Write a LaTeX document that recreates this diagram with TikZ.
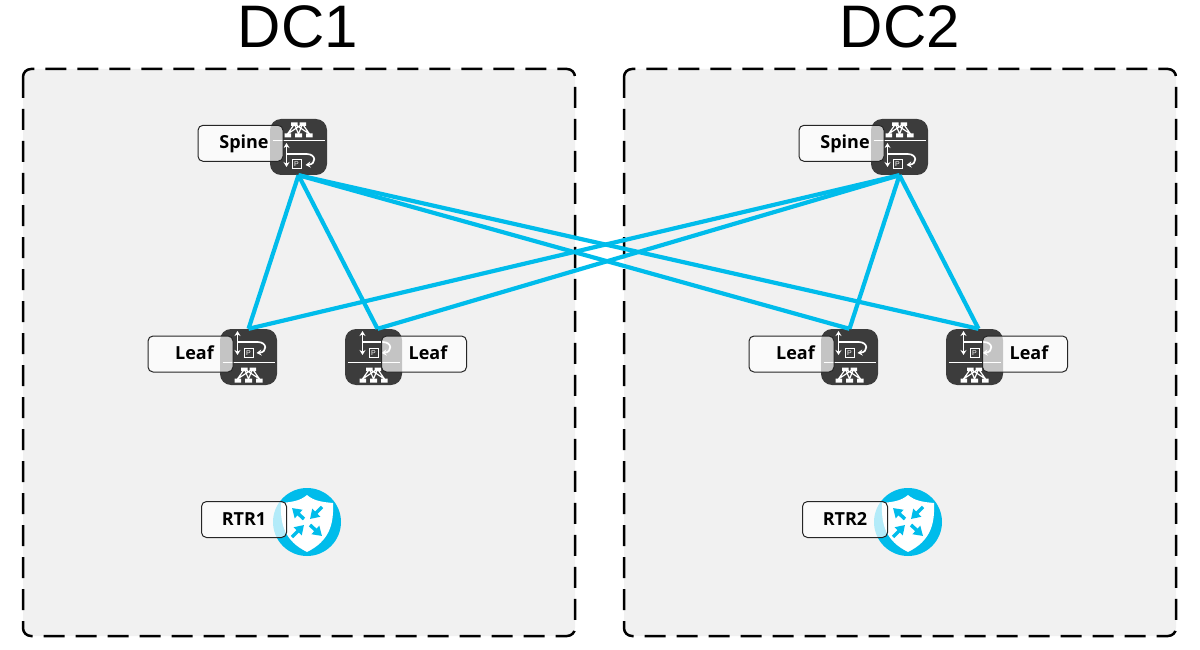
\documentclass[tikz,border=0pt]{standalone}
\usepackage{fontspec}
\setmainfont{Liberation Sans}
\newfontfamily\lblfont{Open Sans}
\usetikzlibrary{arrows.meta}
\definecolor{cisco}{HTML}{00BCEB}
\definecolor{dark}{HTML}{3C3C3C}
\definecolor{bg}{HTML}{F1F1F1}
\tikzset{
 x=1pt,y=-1pt,
 dcbox/.style={draw=black,fill=bg,line width=2.5pt,rounded corners=8pt,dash pattern=on 21pt off 11pt},
 dctitle/.style={font=\fontsize{60}{60}\selectfont,inner sep=0pt},
 iconbox/.style={fill=dark,rounded corners=11pt,minimum width=57pt,minimum height=56pt,inner sep=0pt,draw=none},
 lbl/.style={draw=black!85,line width=1pt,fill=white,fill opacity=0.7,text opacity=1,rounded corners=5pt,minimum width=85pt,minimum height=36pt,inner sep=0pt,text height=11.4pt,text depth=0pt,font=\lblfont\bfseries\fontsize{18}{18}\selectfont},
 link/.style={draw=cisco,line width=4.2pt},
 glyph/.style={draw=white,line width=1.7pt},
 tip/.style={-{Stealth[length=5pt,width=6pt]}},
 tips/.style={{Stealth[length=5pt,width=6pt]}-{Stealth[length=5pt,width=6pt]}},
 rarrow/.style={draw=cisco,line width=3.5pt,-{Stealth[length=9pt,width=11pt,inset=0pt]}},
 netsym/.pic={
  \fill[white] (-7.5,-7.5) rectangle (-1,-4) (1,-7.5) rectangle (7.5,-4);
  \fill[white] (-14,3.5) rectangle (-7.5,7.5) (-3.5,3.5) rectangle (3.5,7.5) (7.5,3.5) rectangle (14,7.5);
  \draw[white,line width=1.2pt] (-4,-6)--(-11,4) (-4,-6)--(0,4) (-4,-6)--(11,4)
    (4,-6)--(-11,4) (4,-6)--(0,4) (4,-6)--(11,4);
 },
 pbox/.pic={
  \draw[white,fill=dark,line width=0.9pt] (-4.5,-4.5) rectangle (4.5,4.5);
  \node[white,font=\fontsize{7}{7}\selectfont,inner sep=0pt] {P};
 },
 spineglyph/.pic={
  \pic at (0,-17) {netsym};
  \draw[white,line width=1.1pt] (-26,-6.5)--(26,-6.5);
  \draw[glyph,tips] (-12,-4)--(-12,20);
  \draw[glyph,tip] (-12,7) -- (8,7) .. controls (18,7) and (18,17) .. (7,18);
  \pic at (-2,17) {pbox};
 },
 leafglyph/.pic={
  \pic at (0,18) {netsym};
  \draw[white,line width=1.1pt] (-26,5.5)--(26,5.5);
  \draw[glyph,tips] (-11,-26)--(-11,-2);
  \draw[glyph,tip] (-11,-15) -- (9,-15) .. controls (19,-15) and (19,-5) .. (8,-4);
  \pic at (0,-4) {pbox};
 },
 rtrglyph/.pic={
  \fill[cisco] (0,0) circle (34);
  \fill[white] (0,-27) .. controls (7,-21) and (15,-20) .. (26,-19)
     .. controls (27,3) and (22,19) .. (0,30)
     .. controls (-22,19) and (-27,3) .. (-26,-19)
     .. controls (-15,-20) and (-7,-21) .. (0,-27) -- cycle;
  \draw[rarrow] (-3,-3)--(-15,-14);
  \draw[rarrow] (15,-15)--(3,-3);
  \draw[rarrow] (-15,15)--(-3,3);
  \draw[rarrow] (3,3)--(15,14);
 },
}
\begin{document}
\begin{tikzpicture}
\useasboundingbox (0,0) rectangle (1200,650);
\draw[dcbox] (23,69) rectangle (575,636);
\draw[dcbox] (624,69) rectangle (1176,636);
\node[dctitle] (t1) at (298,26.5) {DC1};
\node[dctitle] (t2) at (900,26.5) {DC2};
% icons
\node[iconbox] (s1) at (298.5,147) {};
\node[iconbox] (s2) at (899.5,147) {};
\node[iconbox] (l1) at (248.5,357) {};
\node[iconbox] (l2) at (373.5,357) {};
\node[iconbox] (l3) at (849.5,357) {};
\node[iconbox] (l4) at (974.5,357) {};
% links
\foreach \s in {s1,s2}{
 \draw[link] (\s.south) -- (l1.north);
 \draw[link] (\s.south) -- ([xshift=4pt]l2.north);
 \draw[link] (\s.south) -- (l3.north);
 \draw[link] (\s.south) -- ([xshift=4pt]l4.north);
}
% glyphs
\pic at (s1) {spineglyph};
\pic at (s2) {spineglyph};
\pic at (l1) {leafglyph};
\pic at (l2) {leafglyph};
\pic at (l3) {leafglyph};
\pic at (l4) {leafglyph};
\pic at (307,522) {rtrglyph};
\pic at (908,522) {rtrglyph};
% labels
\node[lbl] (ls1) at (240.5,143.3) {\hspace*{7pt}Spine};
\node[lbl] (ls2) at (841.5,143.3) {\hspace*{7pt}Spine};
\node[lbl] (ll1) at (190.5,354) {\hspace*{8pt}Leaf};
\node[lbl] (ll2) at (424,354) {\hspace*{8pt}Leaf};
\node[lbl] (ll3) at (791.5,354) {\hspace*{8pt}Leaf};
\node[lbl] (ll4) at (1025,354) {\hspace*{8pt}Leaf};
\node[lbl] (lr1) at (244,519.5) {RTR1};
\node[lbl] (lr2) at (845,519.5) {RTR2};
\end{tikzpicture}
\end{document}
